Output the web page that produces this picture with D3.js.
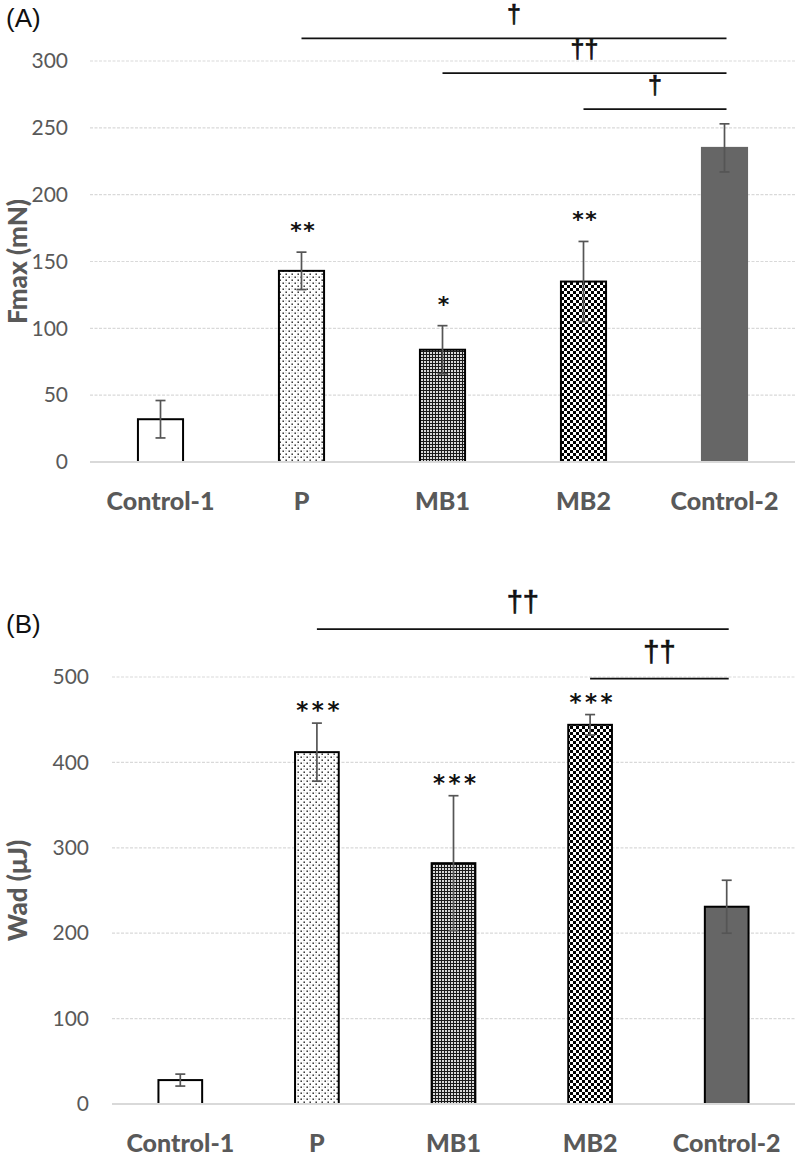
<!DOCTYPE html>
<html>
<head>
<meta charset="utf-8">
<script src="https://cdn.jsdelivr.net/npm/d3@7"></script>
<style>
  html, body { margin: 0; padding: 0; background: #ffffff; }
  svg { display: block; }
</style>
</head>
<body>
<script>
// ---------- data ----------
const categories = ["Control-1", "P", "MB1", "MB2", "Control-2"];

const fmaxValues = [32, 143, 84, 135, 235];
const fmaxErrors = [14, 14, 18, 30, 18];
const fmaxStars  = ["", "**", "*", "**", ""];
const fmaxTicks  = [0, 50, 100, 150, 200, 250, 300];
const fmaxSigFrom   = ["P", "MB1", "MB2"];
const fmaxSigTo     = ["Control-2", "Control-2", "Control-2"];
const fmaxSigLevel  = [317, 291, 264];
const fmaxSigLabel  = ["†", "††", "†"];

const wadValues = [28, 412, 282, 444, 231];
const wadErrors = [7, 34, 79, 12, 31];
const wadStars  = ["", "***", "***", "***", ""];
const wadTicks  = [0, 100, 200, 300, 400, 500];
const wadSigFrom  = ["P", "MB2"];
const wadSigTo    = ["Control-2", "Control-2"];
const wadSigLevel = [556, 498];
const wadSigLabel = ["††", "††"];

// ---------- drawing ----------
const W = 800, H = 1159;
const svg = d3.select("body").append("svg").attr("width", W).attr("height", H);

const defs = svg.append("defs");
// sparse dots (P)
const pd = defs.append("pattern").attr("id", "pDots").attr("patternUnits", "userSpaceOnUse")
  .attr("width", 6).attr("height", 6);
pd.append("rect").attr("width", 6).attr("height", 6).attr("fill", "#ffffff");
pd.append("rect").attr("x", 0.5).attr("y", 0.5).attr("width", 1.4).attr("height", 1.4).attr("fill", "#111");
pd.append("rect").attr("x", 3.5).attr("y", 3.5).attr("width", 1.4).attr("height", 1.4).attr("fill", "#111");
pd.append("rect").attr("x", 3.5).attr("y", 0.5).attr("width", 0.8).attr("height", 0.8).attr("fill", "#888");
// fine mesh (MB1)
const pm = defs.append("pattern").attr("id", "pMesh").attr("patternUnits", "userSpaceOnUse")
  .attr("width", 3).attr("height", 3);
pm.append("rect").attr("width", 3).attr("height", 3).attr("fill", "#d8d8d8");
pm.append("rect").attr("x", 0).attr("y", 0).attr("width", 1).attr("height", 3).attr("fill", "#1a1a1a");
pm.append("rect").attr("x", 0).attr("y", 0).attr("width", 3).attr("height", 1).attr("fill", "#1a1a1a");
// checkerboard (MB2)
const pc = defs.append("pattern").attr("id", "pChecker").attr("patternUnits", "userSpaceOnUse")
  .attr("width", 6).attr("height", 6);
pc.append("rect").attr("width", 6).attr("height", 6).attr("fill", "#ffffff");
pc.append("rect").attr("x", 0).attr("y", 0).attr("width", 3).attr("height", 3).attr("fill", "#000");
pc.append("rect").attr("x", 3).attr("y", 3).attr("width", 3).attr("height", 3).attr("fill", "#000");

const barFills = ["#ffffff", "url(#pDots)", "url(#pMesh)", "url(#pChecker)", "#666666"];

function drawPanel(cfg) {
  const g = svg.append("g");
  const x = d3.scaleBand().domain(categories).range([cfg.left, cfg.right])
    .paddingInner(0.68).paddingOuter(0.34);
  const y = d3.scaleLinear().domain([0, cfg.max]).range([cfg.bottom, cfg.top]);

  // gridlines
  g.selectAll("line.grid").data(cfg.ticks.filter(d => d > 0)).join("line")
    .attr("x1", cfg.left).attr("x2", cfg.right)
    .attr("y1", d => y(d)).attr("y2", d => y(d))
    .attr("stroke", "#d9d9d9").attr("stroke-width", 1.2).attr("stroke-dasharray", "3,1.5");

  // y axis labels
  const yAxis = d3.axisLeft(y).tickValues(cfg.ticks).tickSize(0).tickPadding(cfg.tickPad);
  const ya = g.append("g").attr("transform", `translate(${cfg.left},0)`).call(yAxis);
  ya.select(".domain").remove();
  ya.selectAll("text").attr("font-family", "Lato, 'Open Sans', sans-serif")
    .attr("font-size", 21).attr("fill", "#595959");

  // bars
  const data = categories.map((c, i) => ({ c, i, v: cfg.values[i], e: cfg.errors[i], s: cfg.stars[i] }));
  g.selectAll("rect.bar").data(data).join("rect")
    .attr("x", d => x(d.c)).attr("width", x.bandwidth())
    .attr("y", d => y(d.v)).attr("height", d => y(0) - y(d.v))
    .attr("fill", d => barFills[d.i])
    .attr("stroke", d => (d.i === 4 ? cfg.lastStroke : "#000"))
    .attr("stroke-width", 2);

  // baseline
  g.append("line").attr("x1", cfg.left).attr("x2", cfg.right)
    .attr("y1", y(0)).attr("y2", y(0)).attr("stroke", "#d9d9d9").attr("stroke-width", 2.2);

  // error bars
  const cx = d => x(d.c) + x.bandwidth() / 2;
  const eg = g.append("g").attr("stroke", "#555").attr("stroke-width", 1.7);
  eg.selectAll("line.v").data(data).join("line")
    .attr("x1", cx).attr("x2", cx).attr("y1", d => y(d.v + d.e)).attr("y2", d => y(d.v - d.e));
  eg.selectAll("line.t").data(data).join("line")
    .attr("x1", d => cx(d) - 5).attr("x2", d => cx(d) + 5)
    .attr("y1", d => y(d.v + d.e)).attr("y2", d => y(d.v + d.e));
  eg.selectAll("line.b").data(data).join("line")
    .attr("x1", d => cx(d) - 5).attr("x2", d => cx(d) + 5)
    .attr("y1", d => y(d.v - d.e)).attr("y2", d => y(d.v - d.e));

  // stars
  g.selectAll("text.star").data(data.filter(d => d.s)).join("text")
    .attr("x", d => cx(d) + 1 + cfg.starSpacing / 2).attr("y", d => y(d.v + d.e) - cfg.starGap)
    .attr("text-anchor", "middle")
    .attr("font-family", "'DejaVu Sans', sans-serif").attr("font-weight", "bold")
    .attr("font-size", cfg.starSize).attr("letter-spacing", cfg.starSpacing).attr("fill", "#111")
    .text(d => d.s);

  // significance lines
  const sig = cfg.sigFrom.map((f, i) => ({
    x1: x(f) + x.bandwidth() / 2, x2: x(cfg.sigTo[i]) + x.bandwidth() / 2 + 2,
    lv: cfg.sigLevel[i], lab: cfg.sigLabel[i]
  }));
  g.selectAll("line.sig").data(sig).join("line")
    .attr("x1", d => d.x1).attr("x2", d => d.x2)
    .attr("y1", d => y(d.lv)).attr("y2", d => y(d.lv))
    .attr("stroke", "#111").attr("stroke-width", 1.7);
  g.selectAll("text.sig").data(sig).join("text")
    .attr("x", d => (d.x1 + d.x2) / 2).attr("y", d => y(d.lv) - cfg.daggerGap)
    .attr("text-anchor", "middle")
    .attr("font-family", "'Liberation Sans', Arial, sans-serif")
    .attr("font-size", cfg.daggerSize).attr("fill", "#111")
    .attr("stroke", "#111").attr("stroke-width", 0.7)
    .text(d => d.lab);

  // x axis labels
  const xAxis = d3.axisBottom(x).tickSize(0);
  const xa = g.append("g").attr("transform", `translate(0,${cfg.bottom})`).call(xAxis);
  xa.select(".domain").remove();
  xa.selectAll("text").attr("dy", null).attr("y", 48)
    .attr("font-family", "Lato, 'Open Sans', sans-serif").attr("font-weight", "900")
    .attr("font-size", 25).attr("fill", "#595959");

  // y title
  g.append("text")
    .attr("transform", `translate(27,${(cfg.top + cfg.bottom) / 2}) rotate(-90)`)
    .attr("text-anchor", "middle")
    .attr("font-family", "Lato, 'Open Sans', sans-serif").attr("font-weight", "900")
    .attr("font-size", 26).attr("fill", "#595959")
    .text(cfg.yTitle);

  // panel label
  g.append("text").attr("x", 6).attr("y", cfg.labelY)
    .attr("font-family", "'Liberation Sans', Arial, sans-serif")
    .attr("font-size", 26).attr("fill", "#111")
    .text(cfg.panel);
}

drawPanel({
  left: 90, right: 795, top: 61, bottom: 462, max: 300, tickPad: 22,
  ticks: fmaxTicks, values: fmaxValues, errors: fmaxErrors, stars: fmaxStars,
  sigFrom: fmaxSigFrom, sigTo: fmaxSigTo, sigLevel: fmaxSigLevel, sigLabel: fmaxSigLabel,
  starGap: 14, starSize: 22, starSpacing: 1.5,
  daggerGap: 15, daggerSize: 25, lastStroke: "#666666",
  yTitle: "Fmax (mN)", panel: "(A)", labelY: 27
});

drawPanel({
  left: 112, right: 795, top: 677, bottom: 1104, max: 500, tickPad: 23,
  ticks: wadTicks, values: wadValues, errors: wadErrors, stars: wadStars,
  sigFrom: wadSigFrom, sigTo: wadSigTo, sigLevel: wadSigLevel, sigLabel: wadSigLabel,
  starGap: 5, starSize: 23, starSpacing: 3.5,
  daggerGap: 17, daggerSize: 29, lastStroke: "#000",
  yTitle: "Wad (μJ)", panel: "(B)", labelY: 633
});
</script>
</body>
</html>
